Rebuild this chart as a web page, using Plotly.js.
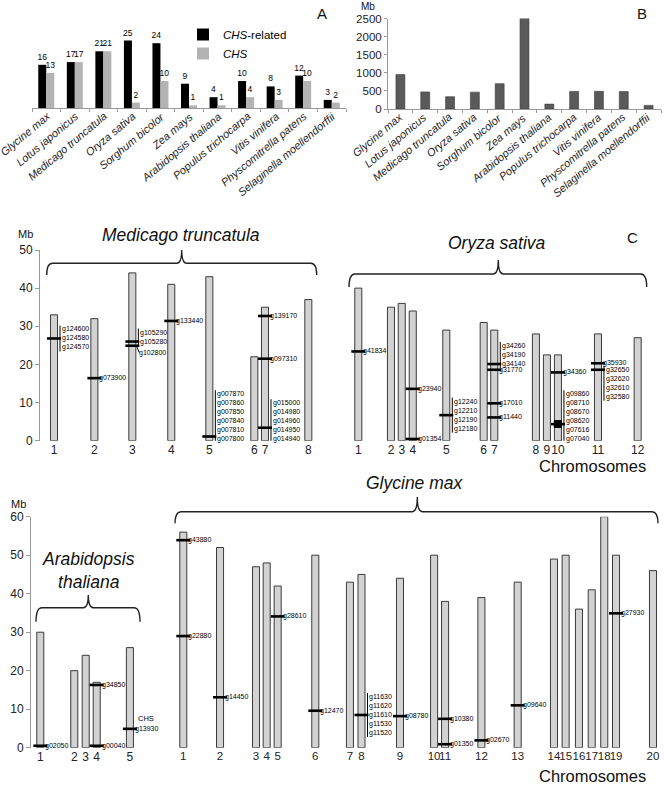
<!DOCTYPE html>
<html><head><meta charset="utf-8">
<script src="https://cdn.plot.ly/plotly-3.0.1.min.js"></script>
<style>html,body{margin:0;padding:0;background:#fff}#chart{width:664px;height:786px}</style>
</head><body><div id="chart"></div>
<script>
// ---------- Panel A / B data ----------
const species = ['Glycine max','Lotus japonicus','Medicago truncatula','Oryza sativa','Sorghum bicolor','Zea mays','Arabidopsis thaliana','Populus trichocarpa','Vitis vinifera','Physcomitrella patens','Selaginella moellendorffii'];
const chsRelated = [16,17,21,25,24,9,4,10,8,12,3];
const chsCount   = [13,17,21,2,10,1,1,4,3,10,2];
const genomeMb   = [950,472,340,466,700,2500,135,485,487,480,100];

// ---------- Medicago truncatula ----------
const medChr = ['1','2','3','4','5','6','7','8'];
const medPos = [1,4.67,8.12,11.66,15.12,19.21,20.18,24.12];
const medLen = [33,32,44,41,43,22,35,37];
const medGeneChr = ['1','2','3','3','4','5','7','7','7'];
const medGeneMb  = [26.8,16.4,26,24.9,31.4,1.1,32.7,21.5,3.4];
const medGeneIds = [['g124600','g124580','g124570'],['g073900'],['g105290','g105280'],['g102800'],['g133440'],
  ['g007870','g007860','g007850','g007840','g007810','g007800'],['g139170'],['g097310'],
  ['g015000','g014980','g014960','g014950','g014940']];

// ---------- Oryza sativa ----------
const osChr = ['1','2','3','4','5','6','7','8','9','10','11','12'];
const osPos = [1,3.97,4.95,5.95,9.0,12.4,13.36,17.15,18.15,19.15,22.79,26.4];
const osLen = [40,35,36,34,29,31,29,28,22.5,22.5,28,27];
const osGeneChr = ['1','4','4','5','7','7','7','7','10','10','11','11'];
const osGeneMb  = [23.4,13.6,0.45,6.7,20.1,18.6,9.8,6.1,17.9,4.35,20.3,18.6];
const osGeneIds = [['g41834'],['g23940'],['g01354'],['g12240','g12210','g12190','g12180'],['g34260','g34190','g34140'],
  ['g31770'],['g17010'],['g11440'],['g34360'],['g09860','g08710','g08670','g08620','g07616','g07040'],
  ['g35930'],['g32650','g32620','g32610','g32580']];
const osClusterChr = ['10'];
const osClusterFrom = [3.3];
const osClusterTo = [5.4];

// ---------- Arabidopsis thaliana ----------
const atChr = ['1','2','3','4','5'];
const atPos = [1,4.09,5.13,6.13,9.15];
const atLen = [30,20,24,17,26];
const atGeneChr = ['1','4','4','5'];
const atGeneMb  = [0.5,16.3,0.5,4.9];
const atGeneIds = [['g02050'],['g34850'],['g00040'],['g13930']];
const atGeneNote = ['','','','CHS'];

// ---------- Glycine max ----------
const gmChr = ['1','2','3','4','5','6','7','8','9','10','11','12','13','14','15','16','17','18','19','20'];
const gmPos = [1,4.34,7.61,8.58,9.58,13.0,16.15,17.2,20.7,23.8,24.8,28.1,31.4,34.7,35.76,36.97,38.13,39.27,40.34,43.7];
const gmLen = [56,52,47,48,42,50,43,45,44,50,38,39,43,49,50,36,41,60,50,46];
const gmGeneChr = ['1','1','2','5','6','8','9','11','11','12','13','19'];
const gmGeneMb  = [53.9,29.0,13.1,34.1,9.6,8.5,8.2,7.5,0.9,1.9,11.0,34.9];
const gmGeneIds = [['g43880'],['g22880'],['g14450'],['g28610'],['g12470'],['g11630','g11620','g11610','g11530','g11520'],
  ['g08780'],['g10380'],['g01350'],['g02670'],['g09640'],['g27930']];

// ---------- helpers ----------
const FONT = 'Liberation Sans, Arial, Helvetica, sans-serif';
const W = 664, H = 786;
const px2x = v => v / W, px2y = v => 1 - v / H;

const traces = [], annotations = [], shapes = [];

// Panel A
traces.push({type:'bar', x:species, y:chsRelated, name:'<i>CHS</i>-related', xaxis:'x', yaxis:'y',
  offset:-0.28, width:0.28, marker:{color:'#000'}, text:chsRelated.map(String), textposition:'outside',
  textfont:{size:8.5,color:'#000',family:FONT}, constraintext:'none', cliponaxis:false, hoverinfo:'skip'});
traces.push({type:'bar', x:species, y:chsCount, name:'<i>CHS</i>', xaxis:'x', yaxis:'y',
  offset:0, width:0.28, marker:{color:'#b3b3b3'}, text:chsCount.map(String), textposition:'outside',
  textfont:{size:8.5,color:'#000',family:FONT}, constraintext:'none', cliponaxis:false, hoverinfo:'skip'});
// Panel B
traces.push({type:'bar', x:species, y:genomeMb, xaxis:'x2', yaxis:'y2', width:0.36, showlegend:false,
  marker:{color:'#5a5a5a', line:{color:'#3a3a3a', width:0.6}}, hoverinfo:'skip'});

// rotated category labels for panels A and B
species.forEach(s => {
  annotations.push({xref:'x', yref:'paper', x:s, y:px2y(110), xshift:6, xanchor:'right', yanchor:'top', textangle:-40,
    text:'<i>' + s + '</i>', showarrow:false, font:{size:11, family:FONT, color:'#222'}, borderpad:0, borderwidth:0});
  annotations.push({xref:'x2', yref:'paper', x:s, y:px2y(111), xshift:4, xanchor:'right', yanchor:'top', textangle:-40,
    text:'<i>' + s + '</i>', showarrow:false, font:{size:11, family:FONT, color:'#222'}, borderpad:0, borderwidth:0});
});

const STEP = 9;
const labelFirstOffset = {g34260:-18, g32650:0, g105290:-9, g102800:7};

function chromPanel(xa, ya, pxPerMb, names, pos, len, gChr, gMb, gIds, gNotes) {
  traces.push({type:'bar', x:pos, y:len, width:0.64, xaxis:xa, yaxis:ya, showlegend:false, hoverinfo:'skip',
    marker:{color:'#d2d2d2', line:{color:'#3a3a3a', width:1}}});
  const gx = gChr.map(c => pos[names.indexOf(c)]);
  traces.push({type:'scatter', mode:'markers', x:gx, y:gMb, xaxis:xa, yaxis:ya, showlegend:false, hoverinfo:'skip',
    cliponaxis:false, marker:{symbol:'line-ew', size:10, line:{width:2.6, color:'#000'}}});
  gIds.forEach((ids, k) => {
    const n = ids.length;
    const hPx = gMb[k] * pxPerMb;
    let first;
    if (ids[0] in labelFirstOffset) first = labelFirstOffset[ids[0]];
    else {
      first = -(n - 1) / 2 * STEP;
      if (n > 1 && first + (n - 1) * STEP > hPx - 1.5) first = hPx - 1.5 - (n - 1) * STEP;
    }
    const xs = n > 1 ? 6 : (first !== 0 ? 5 : 3);
    ids.forEach((id, i) => annotations.push({xref:xa, yref:ya, x:gx[k], y:gMb[k], xanchor:'left', yanchor:'middle',
      xshift:xs, yshift:-(first + i * STEP), text:id, showarrow:false, font:{size:7, family:FONT, color:'#000'}}));
    const base = {type:'line', xref:xa, yref:ya, xsizemode:'pixel', ysizemode:'pixel', xanchor:gx[k], yanchor:gMb[k], line:{color:'#000', width:1}};
    if (n > 1) {
      shapes.push(Object.assign({}, base, {x0:6, x1:6, y0:-(first - 4), y1:-(first + (n - 1) * STEP + 4)}));
      shapes.push(Object.assign({}, base, {x0:4, x1:6, y0:0, y1:0}));
    } else if (first !== 0) {
      shapes.push(Object.assign({}, base, {x0:4, x1:7, y0:0, y1:-first}));
    }
    if (gNotes && gNotes[k]) annotations.push({xref:xa, yref:ya, x:gx[k], y:gMb[k], xanchor:'left', yanchor:'middle',
      xshift:xs + 3, yshift:-first + 10, text:gNotes[k], showarrow:false, font:{size:7.5, family:FONT, color:'#000'}});
  });
}

const pxMb1 = 190.7 / 50, pxMb2 = 231 / 60;
chromPanel('x3','y3', pxMb1, medChr, medPos, medLen, medGeneChr, medGeneMb, medGeneIds);
chromPanel('x4','y4', pxMb1, osChr, osPos, osLen, osGeneChr, osGeneMb, osGeneIds);
traces.push({type:'bar', x:osClusterChr.map(c => osPos[osChr.indexOf(c)]), y:osClusterTo.map((t,i) => t - osClusterFrom[i]),
  base:osClusterFrom, width:0.74, xaxis:'x4', yaxis:'y4', marker:{color:'#000'}, showlegend:false, hoverinfo:'skip'});
chromPanel('x5','y5', pxMb2, atChr, atPos, atLen, atGeneChr, atGeneMb, atGeneIds, atGeneNote);
chromPanel('x6','y6', pxMb2, gmChr, gmPos, gmLen, gmGeneChr, gmGeneMb, gmGeneIds);

// braces (decoration, pixel geometry)
function brace(x0, x1, xm, yH, yEnd, yPeak) {
  const X = v => px2x(v).toFixed(5), Y = v => px2y(v).toFixed(5);
  const r = 6;
  const d = `M${X(x0)},${Y(yEnd)} Q${X(x0)},${Y(yH)} ${X(x0 + r)},${Y(yH)} L${X(xm - 5)},${Y(yH)} Q${X(xm)},${Y(yH)} ${X(xm)},${Y(yPeak)} Q${X(xm)},${Y(yH)} ${X(xm + 5)},${Y(yH)} L${X(x1 - r)},${Y(yH)} Q${X(x1)},${Y(yH)} ${X(x1)},${Y(yEnd)}`;
  shapes.push({type:'path', xref:'paper', yref:'paper', path:d, line:{color:'#222', width:1.4}});
}
brace(46.7, 316.7, 181.7, 263.3, 275, 250);
brace(349, 646.7, 498.3, 274, 287, 260);
brace(36, 140, 88.3, 607.7, 621.7, 595);
brace(175, 658, 417.3, 511.7, 523.3, 497);

function txt(text, cx, cy, size, extra) {
  annotations.push(Object.assign({xref:'paper', yref:'paper', x:px2x(cx), y:px2y(cy), xanchor:'center', yanchor:'middle',
    text:text, showarrow:false, font:{size:size, family:FONT, color:'#111'}}, extra || {}));
}
txt('<i>Medicago truncatula</i>', 181, 235, 17.5);
txt('<i>Oryza sativa</i>', 497, 243, 17.5);
txt('<i>Arabidopsis</i><br><i>thaliana</i>', 88, 570, 17.5);
txt('<i>Glycine max</i>', 415, 483, 17.5);
txt('Chromosomes', 592, 466, 16.5);
txt('Chromosomes', 592, 776, 16.5);
txt('Mb', 368, 6, 10);
txt('Mb', 25, 234, 11);
txt('Mb', 18, 504, 11);
txt('A', 322, 13, 15);
txt('B', 642, 14, 15);
txt('C', 632, 237, 15);

const catAxis = {type:'category', categoryorder:'array', categoryarray:species, range:[-0.5,10.5], showticklabels:false,
  showline:true, linecolor:'#999', ticks:'outside', tickson:'boundaries', ticklen:3, tickcolor:'#999', showgrid:false, fixedrange:true};
const chrX = {ticks:'', tickangle:0, showline:false, showgrid:false, zeroline:false, tickfont:{size:12, family:FONT, color:'#222'}};
const mbY = {showline:true, linecolor:'#999', ticks:'outside', ticklen:4, tickcolor:'#999', dtick:10, tick0:0,
  tickfont:{size:12, family:FONT, color:'#222'}, showgrid:false, zeroline:false};

const layout = {
  width:W, height:H, margin:{l:0,r:0,t:0,b:0}, paper_bgcolor:'#fff', plot_bgcolor:'rgba(0,0,0,0)',
  font:{family:FONT, color:'#222'}, barmode:'overlay', showlegend:true,
  legend:{x:px2x(183), y:px2y(20), xanchor:'left', yanchor:'top', font:{size:11.5, color:'#000', family:FONT},
    bgcolor:'rgba(0,0,0,0)', itemwidth:30, tracegroupgap:0, traceorder:'normal'},
  xaxis:Object.assign({domain:[px2x(32), px2x(346)], anchor:'y'}, catAxis),
  yaxis:{domain:[px2y(108), px2y(27)], anchor:'x', range:[0,30], visible:false},
  xaxis2:Object.assign({domain:[px2x(388), px2x(661)], anchor:'y2'}, catAxis),
  yaxis2:{domain:[px2y(109), px2y(18.5)], anchor:'x2', range:[0,2500], dtick:500, tick0:0, showline:true, linecolor:'#999',
    ticks:'outside', ticklen:3, tickcolor:'#999', tickfont:{size:11.5, family:FONT, color:'#222'}, showgrid:false, zeroline:false},
  xaxis3:Object.assign({domain:[px2x(40), px2x(330)], anchor:'y3', range:[-0.273, 26.09], tickvals:medPos, ticktext:medChr}, chrX),
  yaxis3:Object.assign({domain:[px2y(440.7), px2y(250)], anchor:'x3', range:[0,50]}, mbY),
  xaxis4:Object.assign({domain:[px2x(340), px2x(660)], anchor:'y4', range:[-0.664, 28.43], tickvals:osPos, ticktext:osChr}, chrX),
  yaxis4:{domain:[px2y(440.7), px2y(250)], anchor:'x4', range:[0,50], visible:false},
  xaxis5:Object.assign({domain:[px2x(31), px2x(165)], anchor:'y5', range:[0.155, 12.34], tickvals:atPos, ticktext:atChr}, chrX),
  yaxis5:Object.assign({domain:[px2y(747.7), px2y(516.7)], anchor:'x5', range:[0,60]}, mbY),
  xaxis6:Object.assign({domain:[px2x(170), px2x(662)], anchor:'y6', range:[-0.209, 44.52], tickvals:gmPos, ticktext:gmChr}, chrX,
    {tickfont:{size:11.5, family:FONT, color:'#222'}}),
  yaxis6:{domain:[px2y(747.7), px2y(516.7)], anchor:'x6', range:[0,60], visible:false},
  annotations:annotations, shapes:shapes
};

Plotly.newPlot('chart', traces, layout, {displayModeBar:false, staticPlot:true});
</script></body></html>
